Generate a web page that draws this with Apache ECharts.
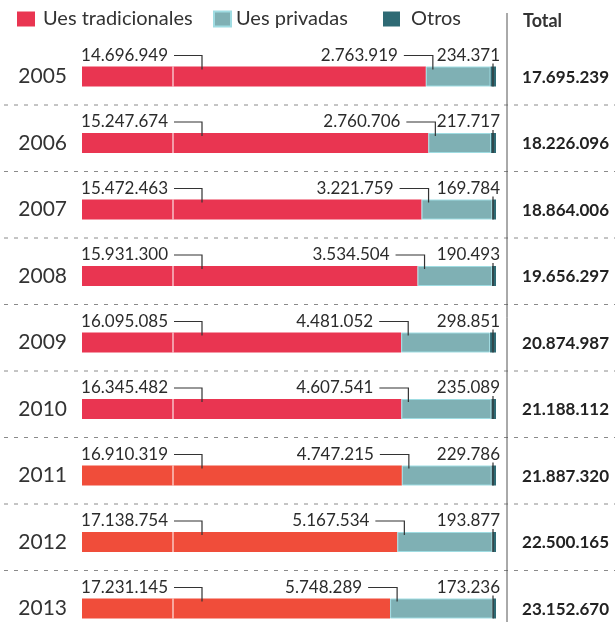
<!DOCTYPE html>
<html>
<head>
<meta charset="utf-8">
<script src="https://cdn.jsdelivr.net/npm/echarts@6/dist/echarts.min.js"></script>
<style>
html,body{margin:0;padding:0;background:#fff;}
#chart{width:615px;height:622px;}
</style>
</head>
<body>
<div id="chart"></div>
<script>
const years = ['2005','2006','2007','2008','2009','2010','2011','2012','2013'];
const uesTradicionales = [14696949,15247674,15472463,15931300,16095085,16345482,16910319,17138754,17231145];
const uesPrivadas = [2763919,2760706,3221759,3534504,4481052,4607541,4747215,5167534,5748289];
const otros = [234371,217717,169784,190493,298851,235089,229786,193877,173236];
const totals = [17695239,18226096,18864006,19656297,20874987,21188112,21887320,22500165,23152670];

const FONT = 'Lato, "Open Sans", sans-serif';
const PINK = '#e93551';
const ORANGE = '#f04d3a';
const LIGHT = '#7fb0b4';
const DARK = '#2e6a74';
const TXT = '#2b2b2b';

function fmt(n){ return String(n).replace(/\B(?=(\d{3})+(?!\d))/g, '.'); }
const pct = (arr) => arr.map((v,i) => v / totals[i] * 100);
const tradPct = pct(uesTradicionales), privPct = pct(uesPrivadas), otrosPct = pct(otros);

const chart = echarts.init(document.getElementById('chart'));

function renderRow(params, api){
  const i = api.value(1);
  const start = api.coord([0, i]);
  const cy = start[1];
  const x0 = start[0];
  const xPriv = api.coord([tradPct[i], i])[0];
  const xEnd = api.coord([100, i])[0];
  const ly = cy - 21;
  const lineStyle = {stroke: '#333', lineWidth: 1.2, fill: null};
  const textFont = '17px ' + FONT;
  const children = [
    {type:'line', shape:{x1:x0+91, y1:cy-10, x2:x0+91, y2:cy+10}, style:{stroke:'rgba(255,255,255,0.85)', lineWidth:1.2}},
    {type:'text', style:{text: fmt(uesTradicionales[i]), x: x0+86, y: ly, align:'right', verticalAlign:'middle', font: textFont, fill: TXT}},
    {type:'polyline', shape:{points:[[x0+92, ly],[x0+120, ly],[x0+120, cy-7]]}, style: lineStyle},
    {type:'text', style:{text: fmt(uesPrivadas[i]), x: xPriv-28, y: ly, align:'right', verticalAlign:'middle', font: textFont, fill: TXT}},
    {type:'polyline', shape:{points:[[xPriv-22, ly],[xPriv+7, ly],[xPriv+7, cy-7]]}, style: lineStyle},
    {type:'text', style:{text: fmt(otros[i]), x: xEnd+4, y: ly, align:'right', verticalAlign:'middle', font: textFont, fill: TXT}},
    {type:'line', shape:{x1:xEnd-3, y1:ly+8, x2:xEnd-3, y2:cy+10}, style:{stroke:'#333', lineWidth:1.2}},
    {type:'text', style:{text: fmt(totals[i]), x: 609, y: cy+1, align:'right', verticalAlign:'middle', font: 'bold 17px ' + FONT, fill: '#222'}}
  ];
  if (i < years.length - 1) {
    children.push({type:'line', shape:{x1:4, y1:cy+28.5, x2:615, y2:cy+28.5}, style:{stroke:'#8a8a8a', lineWidth:1, lineDash:[4,6]}});
  }
  return {type:'group', children};
}

const option = {
  backgroundColor: '#fff',
  animation: false,
  textStyle: {fontFamily: FONT},
  legend: [
    {data:['Ues tradicionales'], left: 17, top: 9, padding: 0, itemWidth: 18, itemHeight: 15, icon: 'rect', textStyle:{fontSize:20, color:'#333', fontFamily: FONT, padding:[0,0,0,3]}},
    {data:['Ues privadas'], left: 213, top: 9, padding: 0, itemWidth: 17, itemHeight: 15, icon: 'rect', textStyle:{fontSize:20, color:'#333', fontFamily: FONT, padding:[0,0,0,0]}},
    {data:['Otros'], left: 383, top: 9, padding: 0, itemWidth: 17, itemHeight: 15, icon: 'rect', textStyle:{fontSize:20, color:'#333', fontFamily: FONT, padding:[0,0,0,6]}}
  ],
  grid: {left: 82, right: 119, top: 76.5, bottom: 13.5, containLabel: false},
  xAxis: {type:'value', min:0, max:100, show:false},
  yAxis: {
    type:'category', data: years, inverse: true, boundaryGap: false,
    axisLine:{show:false}, axisTick:{show:false}, splitLine:{show:false},
    axisLabel:{fontSize:21, color:'#333', margin:15, padding:[12,0,0,0], fontFamily: FONT}
  },
  graphic: [
    {type:'line', shape:{x1:507, y1:13, x2:507, y2:622}, style:{stroke:'#555', lineWidth:1}, z: 10},
    {type:'text', left: 523, top: 12, style:{text:'Total', font:'bold 18px ' + FONT, fill:'#333'}}
  ],
  series: [
    {name:'Ues tradicionales', type:'bar', stack:'s', barWidth: 20,
      itemStyle:{color: PINK},
      data: tradPct.map((v,i) => i >= 6 ? {value: v, itemStyle:{color: ORANGE}} : v)},
    {name:'Ues privadas', type:'bar', stack:'s', barWidth: 20,
      itemStyle:{color: LIGHT, borderColor:'#9fdce2', borderWidth:1},
      data: privPct},
    {name:'Otros', type:'bar', stack:'s', barWidth: 20,
      itemStyle:{color: DARK},
      data: otrosPct},
    {type:'custom', renderItem: renderRow, clip: false, silent: true, z: 5,
      encode:{x:0, y:1},
      data: years.map((y,i) => [0, i])}
  ]
};
chart.setOption(option);
</script>
</body>
</html>
